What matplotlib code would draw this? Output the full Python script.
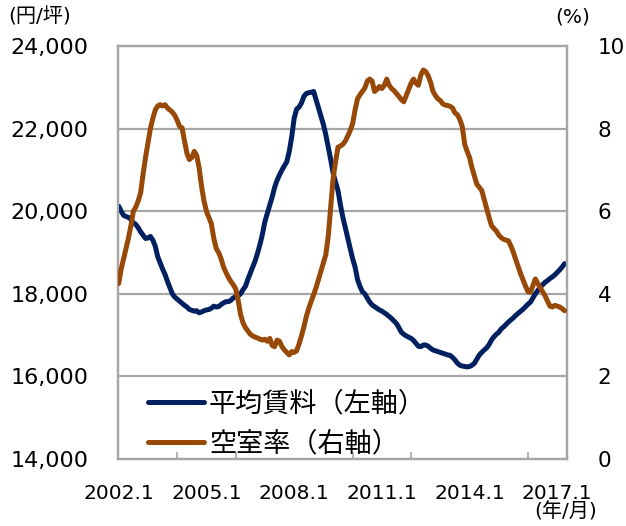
import matplotlib
matplotlib.use("Agg")
import matplotlib.pyplot as plt
import numpy as np

plt.rcParams['font.family'] = ['DejaVu Sans', 'Noto Sans CJK JP']

# Monthly data from 2002.1 (month index 0)
rent = [
    20120, 20000, 19900, 19870, 19850, 19800, 19720, 19680, 19600, 19500,
    19420, 19340, 19350, 19390, 19300, 19150, 18900, 18750, 18600, 18470,
    18300, 18150, 18000, 17920, 17870, 17820, 17770, 17720, 17680, 17620,
    17600, 17580, 17590, 17540, 17560, 17590, 17610, 17620, 17650, 17700,
    17680, 17690, 17740, 17780, 17810, 17810, 17840, 17900, 17930, 17950,
    18000, 18100, 18180, 18350, 18500, 18650, 18800, 18990, 19200, 19450,
    19750, 19950, 20150, 20350, 20580, 20750, 20880, 21000, 21100, 21200,
    21450, 21800, 22250, 22470, 22520, 22620, 22780, 22850, 22870, 22880,
    22900, 22700, 22500, 22300, 22100, 21850, 21550, 21250, 20920, 20700,
    20500, 20150, 19850, 19600, 19350, 19100, 18850, 18650, 18350, 18180,
    18050, 18000, 17900, 17800, 17730, 17690, 17650, 17610, 17580, 17540,
    17500, 17450, 17400, 17340, 17280, 17180, 17070, 17020, 16980, 16950,
    16920, 16870, 16800, 16730, 16720, 16760, 16760, 16730, 16680, 16640,
    16620, 16600, 16580, 16560, 16540, 16520, 16510, 16460, 16400, 16320,
    16270, 16250, 16240, 16230, 16240, 16270, 16320, 16420, 16520, 16580,
    16640, 16690, 16770, 16880, 16960, 17020, 17070, 17150, 17200, 17260,
    17320, 17370, 17420, 17480, 17530, 17580, 17630, 17690, 17750, 17800,
    17900, 18000, 18080, 18160, 18220, 18280, 18320, 18370, 18410, 18460,
    18520, 18580, 18650, 18730,
]

vacancy = [
    4.25, 4.60, 4.85, 5.10, 5.35, 5.65, 6.00, 6.10, 6.25, 6.45,
    6.90, 7.30, 7.65, 8.00, 8.25, 8.45, 8.55, 8.58, 8.55, 8.58,
    8.50, 8.45, 8.40, 8.32, 8.20, 8.05, 8.02, 7.70, 7.40, 7.25,
    7.30, 7.45, 7.35, 7.05, 6.60, 6.25, 6.00, 5.85, 5.70, 5.35,
    5.10, 5.00, 4.85, 4.65, 4.52, 4.40, 4.30, 4.22, 4.12, 3.85,
    3.50, 3.30, 3.18, 3.10, 3.02, 2.98, 2.95, 2.93, 2.90, 2.88,
    2.90, 2.85, 2.92, 2.75, 2.72, 2.88, 2.85, 2.72, 2.64, 2.58,
    2.52, 2.60, 2.58, 2.62, 2.78, 2.98, 3.20, 3.45, 3.65, 3.82,
    3.98, 4.15, 4.35, 4.55, 4.75, 4.95, 5.40, 6.10, 6.80, 7.20,
    7.55, 7.58, 7.62, 7.70, 7.82, 7.95, 8.12, 8.45, 8.72, 8.82,
    8.90, 8.98, 9.15, 9.20, 9.15, 8.90, 8.95, 9.02, 8.97, 9.05,
    9.20, 9.05, 8.97, 8.92, 8.85, 8.78, 8.70, 8.65, 8.80, 8.95,
    9.10, 9.20, 9.10, 9.05, 9.30, 9.42, 9.38, 9.28, 9.12, 8.90,
    8.80, 8.72, 8.68, 8.60, 8.57, 8.56, 8.54, 8.50, 8.38, 8.34,
    8.22, 8.05, 7.62, 7.45, 7.30, 7.05, 6.85, 6.65, 6.58, 6.50,
    6.28, 6.05, 5.85, 5.65, 5.58, 5.52, 5.42, 5.36, 5.32, 5.30,
    5.28, 5.15, 5.00, 4.82, 4.65, 4.48, 4.33, 4.18, 4.05, 4.04,
    4.20, 4.36, 4.25, 4.15, 4.05, 3.95, 3.82, 3.70, 3.68, 3.72,
    3.70, 3.68, 3.64, 3.59,
]

xtick_labels = ["2002.1", "2005.1", "2008.1", "2011.1", "2014.1", "2017.1"]
left_ticks = [14000, 16000, 18000, 20000, 22000, 24000]
right_ticks = [0, 2, 4, 6, 8, 10]
series_names = ["平均賃料（左軸）", "空室率（右軸）"]

navy = "#002060"
brown = "#984807"
grid_c = "#A6A6A6"

fig = plt.figure(figsize=(6.26, 5.26), dpi=100)
ax = fig.add_axes([0.1885, 0.1274, 0.7173, 0.7851])
ax2 = ax.twinx()

months = np.arange(len(rent))
l1, = ax.plot(months, rent, color=navy, lw=3.6, solid_joinstyle='round',
              solid_capstyle='round', zorder=3)
l2, = ax2.plot(months, vacancy, color=brown, lw=3.6, solid_joinstyle='round',
               solid_capstyle='round', zorder=3)

ax.set_xlim(-0.3, 184)
ax.set_ylim(14000, 24000)
ax2.set_ylim(0, 10)

ax.set_yticks(left_ticks)
ax.set_yticklabels([f"{v:,}" for v in left_ticks])
ax2.set_yticks(right_ticks)
ax2.set_yticklabels([str(v) for v in right_ticks])
for v in left_ticks[1:-1]:
    ax.axhline(v, color=grid_c, lw=1.6, zorder=1)

ax.set_xticks([36 * i for i in range(len(xtick_labels))])
ax.set_xticklabels(xtick_labels)
ax.set_xticks([24 * i for i in range(1, 8)], minor=True)
ax.tick_params(axis='x', which='major', length=0, labelsize=14.5, pad=18)
ax.tick_params(axis='x', which='minor', direction='in', length=5, color=grid_c, width=1.2)
ax.tick_params(axis='y', length=0, labelsize=16, pad=21.5)
ax2.tick_params(axis='y', length=0, labelsize=15.5, pad=22)

for a in (ax, ax2):
    for s in a.spines.values():
        s.set_color(grid_c)
        s.set_linewidth(1.6)

fig.text(8 / 626, 1 - 17 / 526, "(円/坪)", fontsize=14.5, ha='left', va='center')
fig.text(590 / 626, 1 - 17 / 526, "(%)", fontsize=14.5, ha='right', va='center')
fig.text(597 / 626, 1 - 512 / 526, "(年/月)", fontsize=14.5, ha='right', va='center')

leg = ax2.legend([l1, l2], series_names, loc='upper left',
                 bbox_to_anchor=(0.067, 0.163), frameon=False,
                 fontsize=19.5, handlelength=2.05, handletextpad=0.2,
                 labelspacing=0.52, borderaxespad=0, borderpad=0)

fig.savefig("out.png", dpi=100)
